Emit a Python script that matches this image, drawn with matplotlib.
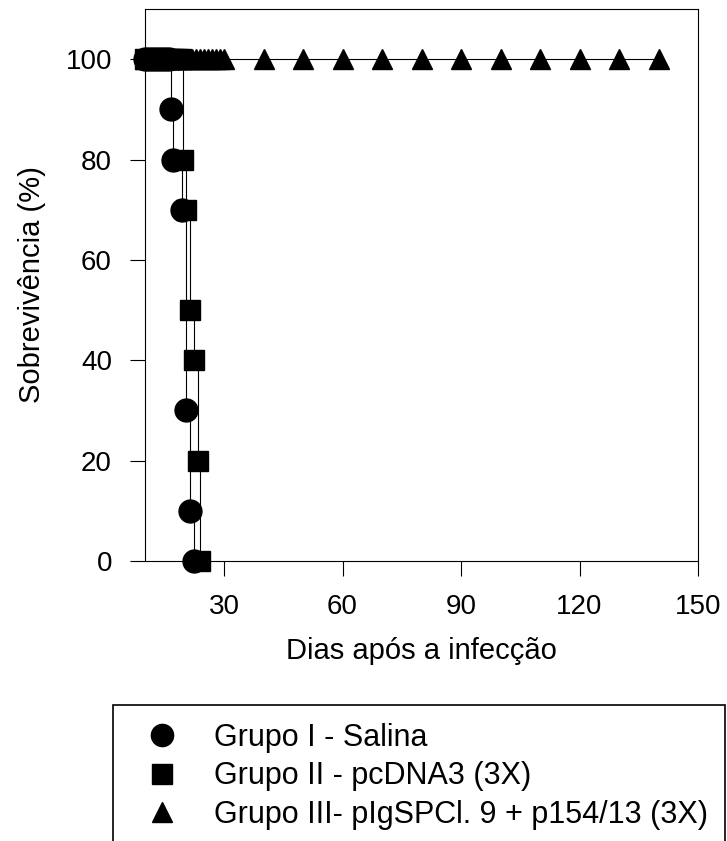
import matplotlib.pyplot as plt
from matplotlib.lines import Line2D
from matplotlib.patches import Rectangle

plt.rcParams["font.family"] = ["Liberation Sans", "DejaVu Sans"]

# Grupo I - Salina (circles)
dias_g1 = [10, 11, 12, 13, 14, 15, 16, 16.5, 17.2, 19.4, 20.4, 21.4, 22.3]
surv_g1 = [100, 100, 100, 100, 100, 100, 100, 90, 80, 70, 30, 10, 0]

# Grupo II - pcDNA3 (squares)
dias_g2 = [10, 11, 12, 13, 14, 15, 16, 17, 18, 19, 19.5, 20.5, 21.4, 22.4, 23.4, 23.9]
surv_g2 = [100, 100, 100, 100, 100, 100, 100, 100, 100, 100, 80, 70, 50, 40, 20, 0]

# Grupo III - pIgSPCl. 9 + p154/13 (triangles)
dias_g3 = [10, 11, 12, 13, 14, 15, 16, 17, 18, 19, 20, 21, 22, 23, 24, 25, 26,
           27, 28, 29, 30, 40, 50, 60, 70, 80, 90, 100, 110, 120, 130, 140]
surv_g3 = [100] * len(dias_g3)

labels = ["Grupo I - Salina", "Grupo II - pcDNA3 (3X)",
          "Grupo III- pIgSPCl. 9 + p154/13 (3X)"]
xticks = [30, 60, 90, 120, 150]
yticks = [0, 20, 40, 60, 80, 100]

fig = plt.figure(figsize=(7.27, 8.41), dpi=100)
ax = fig.add_axes([145 / 727, 1 - 561 / 841, 553 / 727, 552 / 841])

ax.plot(dias_g3, surv_g3, color="black", lw=0.8, marker="^", ms=15,
        drawstyle="steps-post", clip_on=False, zorder=3)
ax.plot(dias_g2, surv_g2, color="black", lw=0.8, marker="s", ms=15,
        drawstyle="steps-post", clip_on=False, zorder=3)
ax.plot(dias_g1, surv_g1, color="black", lw=0.8, marker="o", ms=16.5,
        drawstyle="steps-post", clip_on=False, zorder=3)

ax.set_xlim(10, 150)
ax.set_ylim(0, 110)
ax.set_xticks(xticks)
ax.set_yticks(yticks)
ax.tick_params(direction="out", length=10.8, width=0.8, labelsize=20, pad=13)
for s in ax.spines.values():
    s.set_linewidth(0.8)

ax.set_xlabel("Dias após a infecção", fontsize=21, labelpad=12)
ax.set_ylabel("Sobrevivência (%)", fontsize=21, labelpad=14)

# legend box, cut off by the bottom edge of the figure
fig.patches.append(Rectangle((113 / 727, -0.05), 612 / 727, 0.05 + 136 / 841,
                             transform=fig.transFigure, fill=False,
                             edgecolor="black", lw=1.2))
handles = [
    Line2D([], [], color="black", marker="o", ls="none", ms=16),
    Line2D([], [], color="black", marker="s", ms=14, ls="none"),
    Line2D([], [], color="black", marker="^", ms=15, ls="none"),
]
fig.legend(handles, labels, loc="upper left", bbox_to_anchor=(131 / 727, 1 - 723 / 841),
           frameon=False, fontsize=22, handletextpad=0.7, labelspacing=0.27,
           borderpad=0, borderaxespad=0)

fig.savefig("out.png", dpi=100)
